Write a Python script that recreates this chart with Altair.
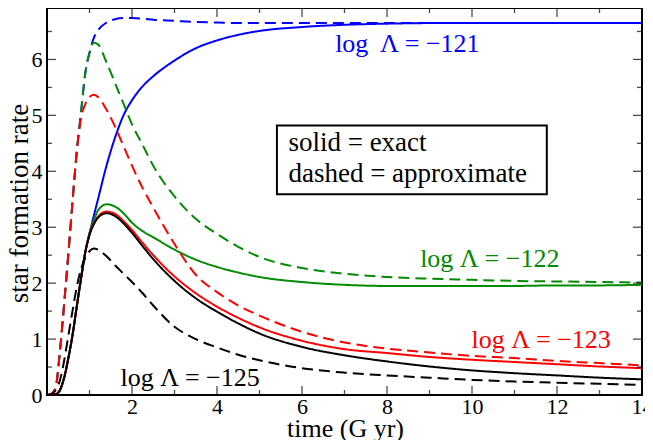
import altair as alt
import pandas as pd

# time grid (G yr)
T = [0, 0.1, 0.2, 0.3, 0.4, 0.5, 0.6, 0.7, 0.8, 0.9, 1.0, 1.1, 1.2, 1.4, 1.6, 1.8,
     2.0, 2.25, 2.5, 3.0, 3.5, 4.0, 4.5, 5.0, 6.0, 7.0, 8.0, 9.0, 10.0, 11.0, 12.0, 13.0, 14.0]

# exact (solid)
black_exact = [0, 0, 0.01, 0.08, 0.3, 0.65, 1.07, 1.58, 2.08, 2.55, 2.86, 3.05, 3.17, 3.25, 3.2, 3.07,
               2.9, 2.66, 2.43, 2.04, 1.73, 1.49, 1.28, 1.1, 0.86, 0.71, 0.6, 0.51, 0.44, 0.39, 0.35, 0.31, 0.28]
red_exact = [0, 0, 0.01, 0.08, 0.3, 0.65, 1.07, 1.58, 2.08, 2.55, 2.87, 3.07, 3.19, 3.28, 3.24, 3.11,
             2.95, 2.72, 2.5, 2.12, 1.82, 1.58, 1.38, 1.21, 0.97, 0.82, 0.75, 0.68, 0.63, 0.59, 0.55, 0.51, 0.48]
green_exact = [0, 0, 0.01, 0.08, 0.3, 0.65, 1.07, 1.58, 2.08, 2.55, 2.9, 3.12, 3.3, 3.41, 3.37, 3.25,
               3.08, 2.93, 2.82, 2.6, 2.42, 2.29, 2.19, 2.11, 2.02, 1.97, 1.95, 1.95, 1.95, 1.95, 1.96, 1.96, 1.97]
blue_exact = [0, 0, 0.01, 0.08, 0.3, 0.65, 1.07, 1.58, 2.08, 2.55, 2.88, 3.2, 3.5, 4.1, 4.6, 5.0,
              5.27, 5.52, 5.7, 5.98, 6.2, 6.34, 6.44, 6.51, 6.58, 6.62, 6.64, 6.65, 6.65, 6.65, 6.65, 6.65, 6.65]

# approximate (dashed)
black_approx = [0, 0.01, 0.08, 0.25, 0.6, 1.05, 1.5, 1.93, 2.25, 2.45, 2.57, 2.62, 2.6, 2.48, 2.32, 2.17,
                2.02, 1.82, 1.6, 1.22, 1.0, 0.85, 0.72, 0.62, 0.48, 0.4, 0.35, 0.31, 0.27, 0.24, 0.22, 0.2, 0.18]
red_approx = [0, 0.02, 0.12, 0.75, 1.6, 2.5, 3.45, 4.35, 4.95, 5.2, 5.33, 5.37, 5.33, 5.1, 4.8, 4.45,
              4.1, 3.7, 3.35, 2.7, 2.15, 1.84, 1.6, 1.42, 1.13, 0.94, 0.83, 0.76, 0.7, 0.66, 0.61, 0.57, 0.53]
green_approx = [0, 0.02, 0.12, 0.75, 1.6, 2.5, 3.45, 4.35, 5.05, 5.75, 6.12, 6.3, 6.27, 5.95, 5.58, 5.21,
                4.84, 4.47, 4.1, 3.55, 3.15, 2.88, 2.65, 2.47, 2.27, 2.17, 2.11, 2.08, 2.06, 2.04, 2.03, 2.02, 2.01]
blue_approx = [0, 0.02, 0.12, 0.75, 1.6, 2.5, 3.45, 4.35, 5.05, 5.75, 6.12, 6.38, 6.52, 6.66, 6.72, 6.74,
               6.74, 6.73, 6.71, 6.69, 6.67, 6.66, 6.65, 6.65, 6.65, 6.65, 6.65, 6.65, 6.65, 6.65, 6.65, 6.65, 6.65]

SERIES = ["-121", "-122", "-123", "-125"]
COLORS = ["#0000ff", "#008b00", "#ff0000", "#000000"]

X_LABELS = [2, 4, 6, 8, 10, 12, 14]
Y_LABELS = [0, 1, 2, 3, 4, 5, 6]
X_MAJOR = [0, 2, 4, 6, 8, 10, 12, 14]
X_MINOR = [1, 3, 5, 7, 9, 11, 13]
Y_MAJOR = [0, 1, 2, 3, 4, 5, 6]
Y_MINOR = [0.5, 1.5, 2.5, 3.5, 4.5, 5.5, 6.5]

X_MAX = 14
Y_MAX = 6.92

table = [
    ("-121", "exact", blue_exact), ("-122", "exact", green_exact),
    ("-123", "exact", red_exact), ("-125", "exact", black_exact),
    ("-121", "approx", blue_approx), ("-122", "approx", green_approx),
    ("-123", "approx", red_approx), ("-125", "approx", black_approx),
]
rows = []
for s, k, vals in table:
    for t, v in zip(T, vals):
        rows.append({"t": t, "v": v, "series": s, "kind": k, "key": s + k})
df = pd.DataFrame(rows)

FONT = "Liberation Serif, Times New Roman, Times, serif"
xs = alt.Scale(domain=[0, X_MAX], nice=False, zero=False)
ys = alt.Scale(domain=[0, Y_MAX], nice=False, zero=False)

lines = alt.Chart(df).mark_line(strokeWidth=2, interpolate="monotone").encode(
    x=alt.X("t:Q", scale=xs, axis=alt.Axis(
        values=X_LABELS, format="d", title="time (G yr)", ticks=False, domain=False, grid=False,
        labelFont=FONT, labelFontSize=22, labelColor="black", labelBaseline="alphabetic",
        labelPadding=18, labelFlush=False, labelOverlap=False,
        titleFont=FONT, titleFontSize=26, titleFontWeight="normal", titleColor="black",
        titleX=298, titleY=41, titleBaseline="alphabetic")),
    y=alt.Y("v:Q", scale=ys, axis=alt.Axis(
        values=Y_LABELS, format="d", title="star formation rate", ticks=False, domain=False, grid=False,
        labelFont=FONT, labelFontSize=22, labelColor="black", labelPadding=5,
        labelFlush=False, labelOverlap=False,
        titleFont=FONT, titleFontSize=27, titleFontWeight="normal", titleColor="black",
        titleAngle=270, titleX=-20, titleY=195, titleBaseline="alphabetic")),
    color=alt.Color("series:N", scale=alt.Scale(domain=SERIES, range=COLORS), legend=None),
    strokeDash=alt.StrokeDash("kind:N", scale=alt.Scale(domain=["exact", "approx"],
                                                        range=[[1, 0], [11, 6]]), legend=None),
    detail="key:N",
)

def xticks(vals, size, ypos):
    return alt.Chart(pd.DataFrame({"t": vals})).mark_tick(
        orient="vertical", size=size, thickness=1.3, color="black", clip=True
    ).encode(x=alt.X("t:Q", scale=xs), y=alt.datum(ypos))

def yticks(vals, size, xpos):
    return alt.Chart(pd.DataFrame({"v": vals})).mark_tick(
        orient="horizontal", size=size, thickness=1.3, color="black", clip=True
    ).encode(y=alt.Y("v:Q", scale=ys), x=alt.datum(xpos))

ticks = [
    xticks(X_MAJOR, 18, 0), xticks(X_MINOR, 10, 0),
    xticks(X_MAJOR, 18, Y_MAX), xticks(X_MINOR, 10, Y_MAX),
    yticks(Y_MAJOR, 18, 0), yticks(Y_MINOR, 10, 0),
    yticks(Y_MAJOR, 18, X_MAX), yticks(Y_MINOR, 10, X_MAX),
]

one = pd.DataFrame({"a": [0]})

def label(text, x, y, color, size=26):
    return alt.Chart(one).mark_text(
        text=text, font=FONT, fontSize=size, color=color, align="left", baseline="alphabetic"
    ).encode(x=alt.datum(x), y=alt.datum(y))

box = alt.Chart(one).mark_rect(fill="white", stroke="black", strokeWidth=2).encode(
    x=alt.datum(5.41), x2=alt.datum(11.76), y=alt.datum(4.82), y2=alt.datum(3.59))

texts = [
    label("log \u2009\u039b = \u2212121", 6.78, 6.14, "#0000ff"),
    label("log \u039b = \u2212122", 8.78, 2.29, "#008b00"),
    label("log \u039b = \u2212123", 9.99, 0.836, "#ff0000"),
    label("log \u039b = \u2212125", 1.73, 0.16, "black"),
    label("solid = exact", 5.68, 4.365, "black", 27),
    label("dashed = approximate", 5.68, 3.80, "black", 27),
]

chart = alt.layer(box, lines, *ticks, *texts).properties(
    width=595, height=387,
    padding={"left": 39, "top": 0, "right": 3, "bottom": 45},
    autosize="none",
).configure_view(stroke="black", strokeWidth=2)

chart.save("out.html", embed_options={"renderer": "svg", "actions": False})
